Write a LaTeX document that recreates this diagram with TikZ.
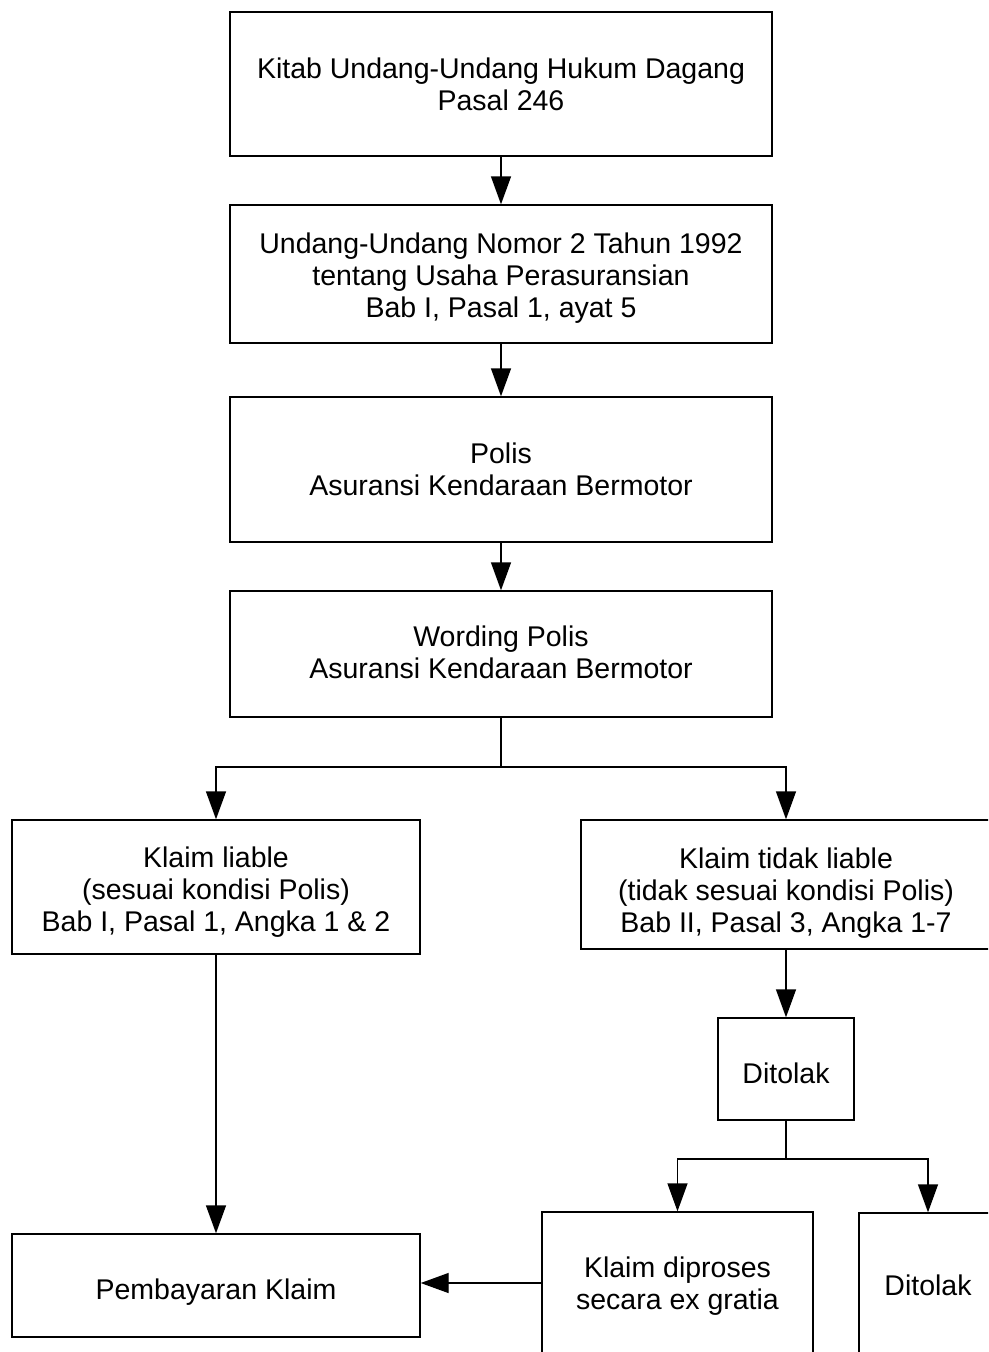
\documentclass[tikz,border=0pt]{standalone}
\usepackage{fontspec}
\setmainfont{Liberation Sans}
\usetikzlibrary{arrows.meta}
\begin{document}
\begin{tikzpicture}[x=1pt,y=-1pt,
  box/.style={draw=black,line width=1.4pt,rectangle,inner sep=0pt},
  txt/.style={align=center,inner sep=0pt,font=\fontsize{28.5}{32}\selectfont},
  conn/.style={draw=black,line width=1.4pt},
  arr/.style={conn,-{Triangle[width=20pt,length=28pt]}}]
\fill[white] (0,0) rectangle (988,1352);
\clip (0,0) rectangle (988,1352);
\node[box,minimum width=542pt,minimum height=144pt] (k1) at (501,84) {};
\node[box,minimum width=542pt,minimum height=138pt] (k2) at (501,274) {};
\node[box,minimum width=542pt,minimum height=145pt] (k3) at (501,469.5) {};
\node[box,minimum width=542pt,minimum height=126pt] (k4) at (501,654) {};
\node[box,minimum width=408pt,minimum height=134pt] (L) at (216,887) {};
\node[box,minimum width=410pt,minimum height=129pt] (T) at (786,884.5) {};
\node[box,minimum width=136pt,minimum height=102pt] (D1) at (786,1069) {};
\node[box,minimum width=271pt,minimum height=142pt] (E) at (677.5,1283) {};
\node[box,minimum width=138pt,minimum height=144pt] (D2) at (928,1285) {};
\node[box,minimum width=408pt,minimum height=103pt] (P) at (216,1285.5) {};
\node[txt] (k1t) at ([yshift=0pt]k1.center) {Kitab Undang-Undang Hukum Dagang\\Pasal 246};
\node[txt] (k2t) at ([yshift=-4pt]k2.center) {Undang-Undang Nomor 2 Tahun 1992\\tentang Usaha Perasuransian\\Bab I, Pasal 1, ayat 5};
\node[txt] (k3t) at ([yshift=0pt]k3.center) {Polis\\Asuransi Kendaraan Bermotor};
\node[txt] (k4t) at ([yshift=2pt]k4.center) {Wording Polis\\Asuransi Kendaraan Bermotor};
\node[txt] (Lt) at ([yshift=-5pt]L.center) {Klaim liable\\(sesuai kondisi Polis)\\Bab I, Pasal 1, Angka 1 \& 2};
\node[txt] (Tt) at ([yshift=-9pt]T.center) {Klaim tidak liable\\(tidak sesuai kondisi Polis)\\Bab II, Pasal 3, Angka 1-7};
\node[txt] (D1t) at ([yshift=-4pt]D1.center) {Ditolak};
\node[txt] (Et) at ([yshift=-3pt]E.center) {Klaim diproses\\secara ex gratia};
\node[txt] (D2t) at (D2.center) {Ditolak};
\node[txt] (Pt) at ([yshift=-7pt]P.center) {Pembayaran Klaim};
\coordinate (j1) at (501,767);
\coordinate (j2) at (786,1159);
\draw[arr] (k1.south) -- (k2.north);
\draw[arr] (k2.south) -- (k3.north);
\draw[arr] (k3.south) -- (k4.north);
\draw[conn] (k4.south) -- (j1);
\draw[arr] (j1) -| (L.north);
\draw[arr] (j1) -| (T.north);
\draw[arr] (T.south) -- (D1.north);
\draw[conn] (D1.south) -- (j2);
\draw[arr] (j2) -| (E.north);
\draw[arr] (j2) -| (D2.north);
\draw[arr] (L.south) -- (P.north);
\draw[arr] (E.west) -- (E.west -| P.east);
\end{tikzpicture}
\end{document}
